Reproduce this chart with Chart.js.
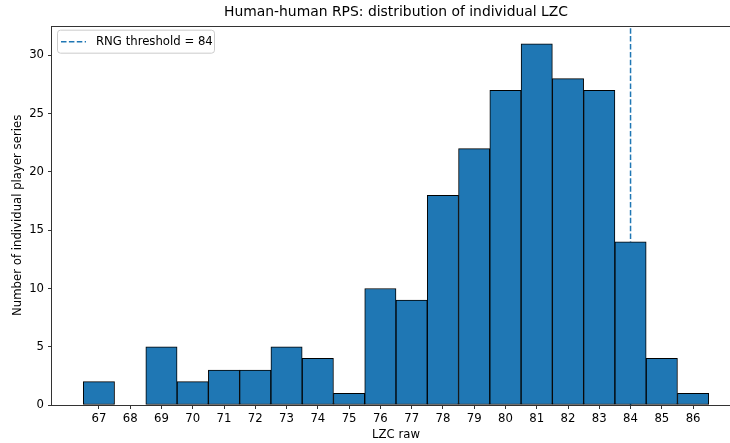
<!DOCTYPE html>
<html>
<head>
<meta charset="utf-8">
<script src="https://cdn.jsdelivr.net/npm/chart.js@4.4.1/dist/chart.umd.min.js"></script>
<style>
  html, body { margin: 0; padding: 0; background: #fff; overflow: hidden; }
  /* the original figure is cut off a little on the right */
  #wrap { width: 730px; height: 443px; overflow: hidden; }
</style>
</head>
<body>
<div id="wrap"><canvas id="lzcChart" width="740" height="443"></canvas></div>
<script>
// histogram of individual LZC values (bins centred on integers)
const lzcValues = [67, 68, 69, 70, 71, 72, 73, 74, 75, 76, 77, 78, 79, 80, 81, 82, 83, 84, 85, 86];
const seriesCounts = [2, 0, 5, 2, 3, 3, 5, 4, 1, 10, 9, 18, 22, 27, 31, 28, 27, 14, 4, 1];
const xTicks = [67, 68, 69, 70, 71, 72, 73, 74, 75, 76, 77, 78, 79, 80, 81, 82, 83, 84, 85, 86];
const yTicks = [0, 5, 10, 15, 20, 25, 30];
const rngThreshold = 84;
const xRange = [65.5, 87.5];
const yRange = [0, 32.55];

const FONT = 'DejaVu Sans';
const BLUE = '#1f77b4';
const TXT = 11.7;

// legend box drawn inside the plot like matplotlib's upper left legend
const innerLegend = {
  id: 'innerLegend',
  afterDatasetsDraw(chart) {
    const ctx = chart.ctx;
    const area = chart.chartArea;
    const ds = chart.data.datasets[1];
    const x = area.left + 5, y = area.top + 4, w = 157, h = 23;
    ctx.save();
    ctx.fillStyle = 'rgba(255,255,255,0.8)';
    ctx.strokeStyle = '#cccccc';
    ctx.lineWidth = 1;
    ctx.beginPath();
    ctx.roundRect(x + 0.5, y + 0.5, w, h, 3);
    ctx.fill();
    ctx.stroke();
    ctx.strokeStyle = ds.borderColor;
    ctx.lineWidth = ds.borderWidth;
    ctx.setLineDash(ds.borderDash);
    ctx.beginPath();
    ctx.moveTo(x + 4, y + 12);
    ctx.lineTo(x + 29, y + 12);
    ctx.stroke();
    ctx.setLineDash([]);
    ctx.fillStyle = '#000';
    ctx.font = TXT + 'px "' + FONT + '"';
    ctx.textBaseline = 'middle';
    ctx.fillText(ds.label, x + 39, y + 12);
    ctx.restore();
  }
};

// all four spines
const frame = {
  id: 'frame',
  afterDraw(chart) {
    const a = chart.chartArea;
    const ctx = chart.ctx;
    ctx.save();
    ctx.strokeStyle = '#333';
    ctx.lineWidth = 1;
    ctx.strokeRect(Math.round(a.left) - 0.5, Math.round(a.top) + 0.5,
      Math.round(a.right - a.left) + 1, Math.round(a.bottom - a.top));
    ctx.restore();
  }
};

const ctx = document.getElementById('lzcChart').getContext('2d');
const chart = new Chart(ctx, {
  type: 'bar',
  data: {
    datasets: [{
      type: 'bar',
      label: 'LZC',
      data: lzcValues.map((v, i) => ({ x: v, y: seriesCounts[i] })),
      backgroundColor: BLUE,
      borderColor: '#000',
      borderWidth: 1,
      borderSkipped: false,
      barPercentage: 1,
      categoryPercentage: 1,
      order: 1
    }, {
      type: 'line',
      label: 'RNG threshold = ' + rngThreshold,
      data: [{ x: rngThreshold, y: yRange[0] }, { x: rngThreshold, y: yRange[1] }],
      borderColor: BLUE,
      borderWidth: 1.5,
      borderDash: [5.5, 2.4],
      pointRadius: 0,
      fill: false,
      order: 2
    }]
  },
  options: {
    responsive: false,
    animation: false,
    devicePixelRatio: 1,
    layout: { padding: 0 },
    plugins: {
      legend: { display: false },
      tooltip: { enabled: false },
      title: {
        display: true,
        fullSize: false,
        text: 'Human-human RPS: distribution of individual LZC',
        color: '#000',
        font: { family: FONT, size: 13.9, weight: 'normal' },
        padding: { top: 4, bottom: 5 }
      }
    },
    scales: {
      x: {
        type: 'linear',
        min: xRange[0],
        max: xRange[1],
        offset: false,
        afterBuildTicks: s => { s.ticks = xTicks.map(v => ({ value: v })); },
        afterFit: s => { s.height = 38; },
        ticks: {
          autoSkip: false,
          maxRotation: 0,
          color: '#000',
          padding: 3,
          font: { family: FONT, size: TXT },
          callback: v => String(v)
        },
        grid: { display: true, drawOnChartArea: false, drawTicks: true, tickLength: 4, color: '#333', offset: false },
        border: { display: false },
        title: {
          display: true,
          text: 'LZC raw',
          color: '#000',
          font: { family: FONT, size: TXT },
          padding: { top: 0, bottom: 1 }
        }
      },
      y: {
        min: yRange[0],
        max: yRange[1],
        afterBuildTicks: s => { s.ticks = yTicks.map(v => ({ value: v })); },
        afterFit: s => { s.width = 52; },
        ticks: {
          color: '#000',
          padding: 4,
          font: { family: FONT, size: TXT }
        },
        grid: { display: true, drawOnChartArea: false, drawTicks: true, tickLength: 4, color: '#333' },
        border: { display: false },
        title: {
          display: true,
          text: 'Number of individual player series',
          color: '#000',
          font: { family: FONT, size: TXT },
          padding: { top: 11, bottom: 0 }
        }
      }
    }
  },
  plugins: [innerLegend, frame]
});
</script>
</body>
</html>
